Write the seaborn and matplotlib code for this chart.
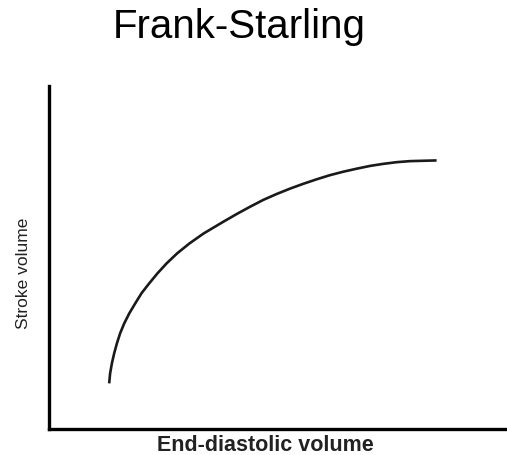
import matplotlib
matplotlib.use("Agg")
import matplotlib.pyplot as plt
import pandas as pd
import seaborn as sns

# values (arbitrary units, axes 0-100)
edv = [13.2, 13.4, 13.8, 14.3, 14.9, 15.6, 16.5, 17.6, 18.9, 20.3, 22.0, 23.8,
       25.8, 28.1, 30.8, 33.9, 38.2, 41.2, 44.1, 47.0, 49.9, 52.9, 55.8,
       58.7, 61.6, 64.5, 67.5, 70.4, 73.3, 76.3, 79.2, 82.1, 85.0]
stroke_volume = [13.3, 16.2, 19.2, 22.1, 25.0, 27.9, 30.8, 33.7, 36.6, 39.6, 42.5, 45.4,
                 48.3, 51.2, 54.1, 57.0, 60.4, 62.7, 64.8, 66.8, 68.5, 70.1, 71.5,
                 72.8, 74.0, 75.0, 75.9, 76.7, 77.3, 77.8, 78.1, 78.2, 78.3]

title = "Frank-Starling"
x_label = "End-diastolic volume"
y_label = "Stroke volume"

df = pd.DataFrame({"edv": edv, "sv": stroke_volume})

sns.set_style("white")
plt.rcParams["font.family"] = ["Liberation Sans", "DejaVu Sans"]

fig = plt.figure(figsize=(5.07, 4.55), dpi=100)
ax = fig.add_axes([49 / 507, 1 - 429 / 455, 456 / 507, 343 / 455])

sns.lineplot(data=df, x="edv", y="sv", ax=ax, color="#1a1a1a", linewidth=1.9,
             sort=False, solid_capstyle="butt")

ax.set_xlim(0, 100)
ax.set_ylim(0, 100)
ax.set_xticks([])
ax.set_yticks([])
ax.set_xlabel("")
ax.set_ylabel("")
sns.despine(ax=ax)
for side in ["left", "bottom"]:
    ax.spines[side].set_linewidth(2.4)
    ax.spines[side].set_color("black")

fig.text(239 / 507, 1 - 38 / 455, title, ha="center", va="baseline", fontsize=29, color="black")
fig.text(265 / 507, 1 - 451 / 455, x_label, ha="center", va="baseline", fontsize=15.5,
         fontweight="bold", color="#222222")
fig.text(24 / 507, 1 - 273 / 455, y_label, ha="center", va="center", rotation=90,
         fontsize=12.5, color="#222222")

fig.savefig("out.png", dpi=100)
